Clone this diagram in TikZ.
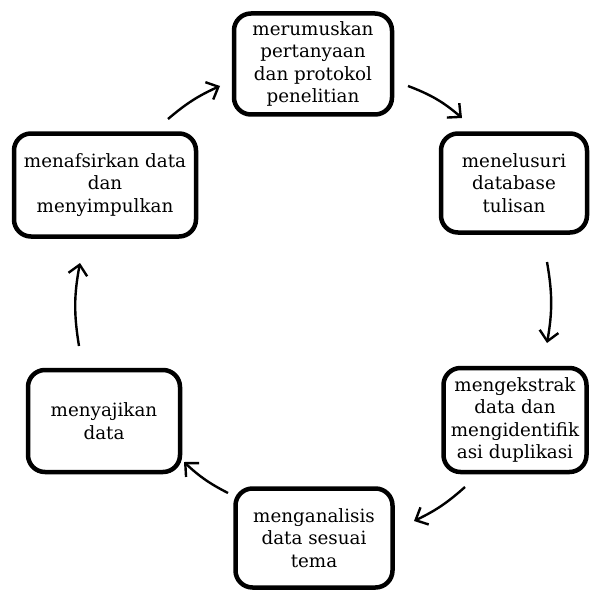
\documentclass[tikz,border=0pt]{standalone}
\usepackage{fontspec}
\setmainfont{DejaVu Serif}
\usetikzlibrary{arrows.meta}
\tikzset{
  stepbox/.style={draw=black, line width=4.5pt, rounded corners=17pt, align=center,
    inner sep=0pt, font=\fontsize{18.3pt}{22.5pt}\selectfont, fill=white},
  flow/.style={line width=2.4pt, -{Straight Barb[length=10pt,width=19pt,line width=2.4pt]}}
}
\begin{document}
\begin{tikzpicture}[x=1pt,y=-1pt]
\useasboundingbox (0,0) rectangle (590,591);
\node[stepbox, minimum width=158pt, minimum height=101pt] (a1) at (313,64)
  {merumuskan\\pertanyaan\\dan protokol\\penelitian};
\node[stepbox, minimum width=146pt, minimum height=99pt] (a2) at (514,183)
  {menelusuri\\database\\tulisan};
\node[stepbox, minimum width=143pt, minimum height=104pt] (a3) at (515,420)
  {mengekstrak\\data dan\\mengidentifik\\asi duplikasi};
\node[stepbox, minimum width=157pt, minimum height=99pt] (a4) at (314,538)
  {menganalisis\\data sesuai\\tema};
\node[stepbox, minimum width=152pt, minimum height=102pt] (a5) at (104,421)
  {menyajikan\\data};
\node[stepbox, minimum width=182pt, minimum height=103pt] (a6) at (105,185)
  {menafsirkan data\\dan\\menyimpulkan};
\coordinate (s1) at (168,119); \coordinate (e1) at (220,86);
\coordinate (s2) at (408,86);  \coordinate (e2) at (462,118);
\coordinate (s3) at (547,262); \coordinate (e3) at (547,343);
\coordinate (s4) at (465,487); \coordinate (e4) at (414,521);
\coordinate (s5) at (228,493); \coordinate (e5) at (184,462);
\coordinate (s6) at (79,346);  \coordinate (e6) at (80,263);
\draw[flow] (s1) to[bend left=8] (e1);
\draw[flow] (s2) to[bend left=10] (e2);
\draw[flow] (s3) to[bend left=10] (e3);
\draw[flow] (s4) to[bend left=8] (e4);
\draw[flow] (s5) to[bend left=8] (e5);
\draw[flow] (s6) to[bend left=10] (e6);
\end{tikzpicture}
\end{document}
